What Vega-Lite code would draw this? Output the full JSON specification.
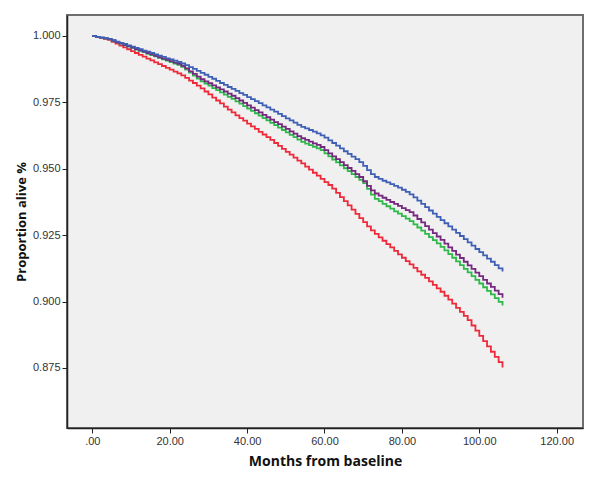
{
  "$schema": "https://vega.github.io/schema/vega-lite/v6.json",
  "width": 516,
  "height": 413,
  "autosize": {"type": "none"},
  "padding": {"left": 67, "top": 15, "right": 17, "bottom": 51},
  "background": "#ffffff",
  "config": {
    "view": {"fill": "#f0f0f0", "stroke": "#6e6e6e", "strokeWidth": 2},
    "axis": {
      "grid": false,
      "domainColor": "#222222",
      "domainWidth": 1.5,
      "tickColor": "#222222",
      "tickSize": 5,
      "tickWidth": 1,
      "labelFont": "Liberation Sans",
      "labelFontSize": 11,
      "labelColor": "#333333",
      "labelPadding": 2,
      "titleFont": "Open Sans",
      "titleFontSize": 13,
      "titleFontWeight": "bold",
      "titleColor": "#111111"
    }
  },
  "data": {
    "values": [
      {"month": 0, "A": 1.0, "B": 1.0, "C": 1.0, "D": 1.0},
      {"month": 1, "A": 0.9997, "B": 0.9997, "C": 0.9997, "D": 0.9996},
      {"month": 2, "A": 0.9994, "B": 0.9994, "C": 0.9994, "D": 0.9993},
      {"month": 3, "A": 0.9992, "B": 0.9991, "C": 0.9991, "D": 0.9989},
      {"month": 4, "A": 0.9989, "B": 0.9988, "C": 0.9988, "D": 0.9985},
      {"month": 5, "A": 0.9984, "B": 0.9983, "C": 0.9982, "D": 0.9978},
      {"month": 6, "A": 0.9979, "B": 0.9977, "C": 0.9977, "D": 0.9971},
      {"month": 7, "A": 0.9974, "B": 0.9972, "C": 0.9971, "D": 0.9964},
      {"month": 8, "A": 0.997, "B": 0.9967, "C": 0.9966, "D": 0.9957},
      {"month": 9, "A": 0.9965, "B": 0.9962, "C": 0.996, "D": 0.995},
      {"month": 10, "A": 0.996, "B": 0.9956, "C": 0.9955, "D": 0.9943},
      {"month": 11, "A": 0.9955, "B": 0.9951, "C": 0.9949, "D": 0.9936},
      {"month": 12, "A": 0.995, "B": 0.9946, "C": 0.9944, "D": 0.9929},
      {"month": 13, "A": 0.9945, "B": 0.9941, "C": 0.9939, "D": 0.9922},
      {"month": 14, "A": 0.9941, "B": 0.9936, "C": 0.9933, "D": 0.9915},
      {"month": 15, "A": 0.9936, "B": 0.9931, "C": 0.9928, "D": 0.9908},
      {"month": 16, "A": 0.9931, "B": 0.9925, "C": 0.9923, "D": 0.9901},
      {"month": 17, "A": 0.9926, "B": 0.992, "C": 0.9918, "D": 0.9894},
      {"month": 18, "A": 0.9921, "B": 0.9915, "C": 0.9912, "D": 0.9887},
      {"month": 19, "A": 0.9916, "B": 0.991, "C": 0.9907, "D": 0.988},
      {"month": 20, "A": 0.9912, "B": 0.9905, "C": 0.9902, "D": 0.9873},
      {"month": 21, "A": 0.9907, "B": 0.99, "C": 0.9896, "D": 0.9866},
      {"month": 22, "A": 0.9902, "B": 0.9895, "C": 0.9891, "D": 0.9859},
      {"month": 23, "A": 0.9897, "B": 0.9888, "C": 0.9884, "D": 0.9852},
      {"month": 24, "A": 0.989, "B": 0.9878, "C": 0.9873, "D": 0.9842},
      {"month": 25, "A": 0.9883, "B": 0.9867, "C": 0.9862, "D": 0.9832},
      {"month": 26, "A": 0.9876, "B": 0.9857, "C": 0.9851, "D": 0.9823},
      {"month": 27, "A": 0.9869, "B": 0.9847, "C": 0.984, "D": 0.9813},
      {"month": 28, "A": 0.9861, "B": 0.9837, "C": 0.9829, "D": 0.9803},
      {"month": 29, "A": 0.9854, "B": 0.9829, "C": 0.9821, "D": 0.9791},
      {"month": 30, "A": 0.9846, "B": 0.9822, "C": 0.9813, "D": 0.978},
      {"month": 31, "A": 0.9839, "B": 0.9814, "C": 0.9804, "D": 0.9768},
      {"month": 32, "A": 0.9831, "B": 0.9806, "C": 0.9796, "D": 0.9757},
      {"month": 33, "A": 0.9823, "B": 0.9799, "C": 0.9788, "D": 0.9746},
      {"month": 34, "A": 0.9816, "B": 0.9791, "C": 0.9779, "D": 0.9734},
      {"month": 35, "A": 0.9808, "B": 0.9783, "C": 0.9771, "D": 0.9723},
      {"month": 36, "A": 0.9801, "B": 0.9775, "C": 0.9763, "D": 0.9712},
      {"month": 37, "A": 0.9793, "B": 0.9766, "C": 0.9754, "D": 0.9701},
      {"month": 38, "A": 0.9785, "B": 0.9757, "C": 0.9745, "D": 0.9691},
      {"month": 39, "A": 0.9778, "B": 0.9748, "C": 0.9736, "D": 0.9681},
      {"month": 40, "A": 0.977, "B": 0.9739, "C": 0.9727, "D": 0.967},
      {"month": 41, "A": 0.9762, "B": 0.973, "C": 0.9718, "D": 0.966},
      {"month": 42, "A": 0.9755, "B": 0.9721, "C": 0.9709, "D": 0.965},
      {"month": 43, "A": 0.9747, "B": 0.9712, "C": 0.97, "D": 0.9639},
      {"month": 44, "A": 0.9739, "B": 0.9703, "C": 0.9691, "D": 0.9629},
      {"month": 45, "A": 0.9731, "B": 0.9694, "C": 0.9682, "D": 0.9619},
      {"month": 46, "A": 0.9723, "B": 0.9685, "C": 0.9673, "D": 0.9609},
      {"month": 47, "A": 0.9715, "B": 0.9676, "C": 0.9664, "D": 0.9597},
      {"month": 48, "A": 0.9707, "B": 0.9668, "C": 0.9655, "D": 0.9586},
      {"month": 49, "A": 0.9698, "B": 0.9659, "C": 0.9646, "D": 0.9575},
      {"month": 50, "A": 0.969, "B": 0.965, "C": 0.9637, "D": 0.9564},
      {"month": 51, "A": 0.9682, "B": 0.9641, "C": 0.9628, "D": 0.9553},
      {"month": 52, "A": 0.9674, "B": 0.9632, "C": 0.9619, "D": 0.9542},
      {"month": 53, "A": 0.9665, "B": 0.9623, "C": 0.961, "D": 0.9531},
      {"month": 54, "A": 0.9658, "B": 0.9615, "C": 0.9601, "D": 0.952},
      {"month": 55, "A": 0.9652, "B": 0.9609, "C": 0.9595, "D": 0.9508},
      {"month": 56, "A": 0.9646, "B": 0.9602, "C": 0.9589, "D": 0.9497},
      {"month": 57, "A": 0.964, "B": 0.9596, "C": 0.9583, "D": 0.9485},
      {"month": 58, "A": 0.9633, "B": 0.959, "C": 0.9577, "D": 0.9474},
      {"month": 59, "A": 0.9626, "B": 0.9582, "C": 0.957, "D": 0.9462},
      {"month": 60, "A": 0.9617, "B": 0.957, "C": 0.9558, "D": 0.945},
      {"month": 61, "A": 0.9607, "B": 0.9558, "C": 0.9547, "D": 0.9439},
      {"month": 62, "A": 0.9597, "B": 0.9547, "C": 0.9535, "D": 0.9425},
      {"month": 63, "A": 0.9587, "B": 0.9536, "C": 0.9524, "D": 0.9409},
      {"month": 64, "A": 0.9577, "B": 0.9525, "C": 0.9513, "D": 0.9393},
      {"month": 65, "A": 0.9566, "B": 0.9514, "C": 0.9502, "D": 0.9378},
      {"month": 66, "A": 0.9556, "B": 0.9503, "C": 0.9491, "D": 0.9362},
      {"month": 67, "A": 0.9546, "B": 0.9492, "C": 0.948, "D": 0.9346},
      {"month": 68, "A": 0.9536, "B": 0.948, "C": 0.9469, "D": 0.933},
      {"month": 69, "A": 0.9525, "B": 0.9469, "C": 0.9458, "D": 0.9314},
      {"month": 70, "A": 0.9511, "B": 0.9453, "C": 0.9446, "D": 0.9299},
      {"month": 71, "A": 0.9495, "B": 0.9436, "C": 0.9424, "D": 0.9283},
      {"month": 72, "A": 0.948, "B": 0.9419, "C": 0.9403, "D": 0.9268},
      {"month": 73, "A": 0.9469, "B": 0.9407, "C": 0.9387, "D": 0.9255},
      {"month": 74, "A": 0.9462, "B": 0.9399, "C": 0.9378, "D": 0.9242},
      {"month": 75, "A": 0.9455, "B": 0.9391, "C": 0.9368, "D": 0.9229},
      {"month": 76, "A": 0.9449, "B": 0.9383, "C": 0.9359, "D": 0.9216},
      {"month": 77, "A": 0.9442, "B": 0.9375, "C": 0.935, "D": 0.9204},
      {"month": 78, "A": 0.9436, "B": 0.9368, "C": 0.934, "D": 0.9191},
      {"month": 79, "A": 0.9429, "B": 0.936, "C": 0.9331, "D": 0.9178},
      {"month": 80, "A": 0.9421, "B": 0.9352, "C": 0.9322, "D": 0.9165},
      {"month": 81, "A": 0.9413, "B": 0.9344, "C": 0.9312, "D": 0.9152},
      {"month": 82, "A": 0.9404, "B": 0.9337, "C": 0.9303, "D": 0.914},
      {"month": 83, "A": 0.9392, "B": 0.9324, "C": 0.9291, "D": 0.9127},
      {"month": 84, "A": 0.938, "B": 0.9311, "C": 0.9279, "D": 0.9114},
      {"month": 85, "A": 0.9368, "B": 0.9298, "C": 0.9267, "D": 0.9101},
      {"month": 86, "A": 0.9356, "B": 0.9284, "C": 0.9255, "D": 0.9089},
      {"month": 87, "A": 0.9343, "B": 0.9271, "C": 0.9243, "D": 0.9076},
      {"month": 88, "A": 0.9331, "B": 0.9258, "C": 0.9231, "D": 0.9063},
      {"month": 89, "A": 0.9319, "B": 0.9245, "C": 0.9219, "D": 0.905},
      {"month": 90, "A": 0.9307, "B": 0.9232, "C": 0.9206, "D": 0.9037},
      {"month": 91, "A": 0.9295, "B": 0.9218, "C": 0.9193, "D": 0.9022},
      {"month": 92, "A": 0.9283, "B": 0.9204, "C": 0.9179, "D": 0.9007},
      {"month": 93, "A": 0.9271, "B": 0.9191, "C": 0.9165, "D": 0.8992},
      {"month": 94, "A": 0.9259, "B": 0.9177, "C": 0.9151, "D": 0.8976},
      {"month": 95, "A": 0.9247, "B": 0.9164, "C": 0.9137, "D": 0.8961},
      {"month": 96, "A": 0.9235, "B": 0.915, "C": 0.9123, "D": 0.8946},
      {"month": 97, "A": 0.9223, "B": 0.9136, "C": 0.911, "D": 0.893},
      {"month": 98, "A": 0.9211, "B": 0.9123, "C": 0.9096, "D": 0.891},
      {"month": 99, "A": 0.9198, "B": 0.9109, "C": 0.9082, "D": 0.8891},
      {"month": 100, "A": 0.9186, "B": 0.9096, "C": 0.9068, "D": 0.8871},
      {"month": 101, "A": 0.9174, "B": 0.9082, "C": 0.9054, "D": 0.8851},
      {"month": 102, "A": 0.9162, "B": 0.9068, "C": 0.904, "D": 0.8831},
      {"month": 103, "A": 0.915, "B": 0.9055, "C": 0.9027, "D": 0.8811},
      {"month": 104, "A": 0.9137, "B": 0.9041, "C": 0.9013, "D": 0.8792},
      {"month": 105, "A": 0.9125, "B": 0.9028, "C": 0.8999, "D": 0.8772},
      {"month": 106, "A": 0.9113, "B": 0.9014, "C": 0.8985, "D": 0.8752}
    ]
  },
  "transform": [
    {"fold": ["D", "C", "B", "A"], "as": ["group", "proportion"]}
  ],
  "mark": {"type": "line", "interpolate": "step-after", "strokeWidth": 1.8, "clip": true},
  "encoding": {
    "x": {
      "field": "month",
      "type": "quantitative",
      "scale": {"domain": [-6.54, 126.8], "nice": false, "zero": false},
      "axis": {
        "values": [0, 20, 40, 60, 80, 100, 120],
        "labelExpr": "datum.value == 0 ? '.00' : format(datum.value, '.2f')",
        "title": "Months from baseline",
        "titleFontSize": 14,
        "titlePadding": 8
      }
    },
    "y": {
      "field": "proportion",
      "type": "quantitative",
      "scale": {"domain": [0.8524, 1.0079], "nice": false, "zero": false},
      "axis": {
        "values": [0.875, 0.9, 0.925, 0.95, 0.975, 1.0],
        "format": ".3f",
        "title": "Proportion alive %",
        "titlePadding": 4
      }
    },
    "color": {
      "field": "group",
      "type": "nominal",
      "scale": {"domain": ["A", "B", "C", "D"], "range": ["#3f5fb5", "#74287f", "#2eb84a", "#ee2a3a"]},
      "legend": null
    }
  }
}
